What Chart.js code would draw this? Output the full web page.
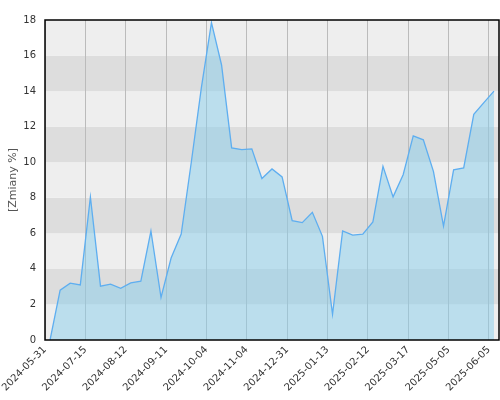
<!DOCTYPE html>
<html>
<head>
<meta charset="utf-8">
<script src="https://cdn.jsdelivr.net/npm/chart.js@4"></script>
<style>
  html, body { margin: 0; padding: 0; background: #fff; }
  #wrap { width: 500px; height: 400px; }
</style>
</head>
<body>
<div id="wrap"><canvas id="fund-chart" width="500" height="400"></canvas></div>
<script>
let changeValues = [
  0, 2.8, 3.2, 3.1, 8.05, 3.03, 3.14, 2.91, 3.21, 3.31,
  6.13, 2.39, 4.61, 5.96, 10.0, 14.2, 17.85, 15.47, 10.81, 10.71,
  10.75, 9.08, 9.62, 9.17, 6.71, 6.6, 7.18, 5.83, 1.45, 6.13,
  5.9, 5.96, 6.64, 9.77, 8.05, 9.3, 11.48, 11.26, 9.49, 6.41,
  9.57, 9.68, 12.69, 13.35, 14.0,
];

let dateTickLabels = [
  "2024-05-31",
  "2024-07-15",
  "2024-08-12",
  "2024-09-11",
  "2024-10-04",
  "2024-11-04",
  "2024-12-31",
  "2025-01-13",
  "2025-02-12",
  "2025-03-17",
  "2025-05-05",
  "2025-06-05",
];

// one label every 4 points, placed between points
let dateTickPositions = dateTickLabels.map((_, i) => i * 4 - 0.5);

const bandsPlugin = {
  id: "bands",
  beforeDraw(chart) {
    const { ctx, chartArea, scales } = chart;
    const y = scales.y;
    ctx.save();
    for (let v = 0; v < 18; v += 2) {
      const top = y.getPixelForValue(v + 2);
      const bottom = y.getPixelForValue(v);
      ctx.fillStyle = (v / 2) % 2 === 1 ? "#dddddd" : "#eeeeee";
      ctx.fillRect(chartArea.left, top, chartArea.right - chartArea.left, bottom - top);
    }
    ctx.restore();
  },
  afterDatasetsDraw(chart) {
    const { ctx, chartArea } = chart;
    ctx.save();
    ctx.strokeStyle = "#000";
    ctx.lineWidth = 1.5;
    ctx.strokeRect(chartArea.left, chartArea.top, chartArea.right - chartArea.left, chartArea.bottom - chartArea.top);
    ctx.restore();
  },
};

const canvas = document.getElementById("fund-chart");

new Chart(canvas, {
  type: "line",
  data: {
    datasets: [
      {
        data: changeValues.map((v, i) => ({ x: i, y: v })),
        borderColor: "#5eaef0",
        borderWidth: 1.3,
        backgroundColor: "rgba(135, 206, 235, 0.5)",
        fill: "origin",
        tension: 0,
        pointRadius: 0,
      },
    ],
  },
  options: {
    responsive: false,
    animation: false,
    plugins: {
      legend: { display: false },
      tooltip: { enabled: false },
    },
    layout: {
      padding: { top: 20, right: 1, left: 0, bottom: 0 },
    },
    scales: {
      x: {
        type: "linear",
        min: -0.5,
        max: 44.5,
        afterBuildTicks(scale) {
          scale.ticks = dateTickPositions.map((v) => ({ value: v }));
        },
        afterFit(scale) {
          scale.height = 60;
          scale.paddingRight = 0;
          scale.paddingLeft = 0;
        },
        grid: {
          color: "#bbbbbb",
          lineWidth: 1,
          drawTicks: false,
        },
        border: { display: false },
        ticks: {
          autoSkip: false,
          maxRotation: 45,
          minRotation: 45,
          padding: 4,
          color: "#333",
          font: { family: "DejaVu Sans", size: 10 },
          callback(value, index) {
            return dateTickLabels[index];
          },
        },
      },
      y: {
        min: 0,
        max: 18,
        afterFit(scale) {
          scale.width = 45;
        },
        grid: { display: false, drawTicks: false },
        border: { display: false },
        title: {
          display: true,
          text: "[Zmiany %]",
          color: "#555",
          font: { family: "DejaVu Sans", size: 11 },
          padding: { top: 7, bottom: 0 },
        },
        ticks: {
          stepSize: 2,
          padding: 9,
          color: "#333",
          font: { family: "DejaVu Sans", size: 10 },
        },
      },
    },
  },
  plugins: [bandsPlugin],
});
</script>
</body>
</html>
